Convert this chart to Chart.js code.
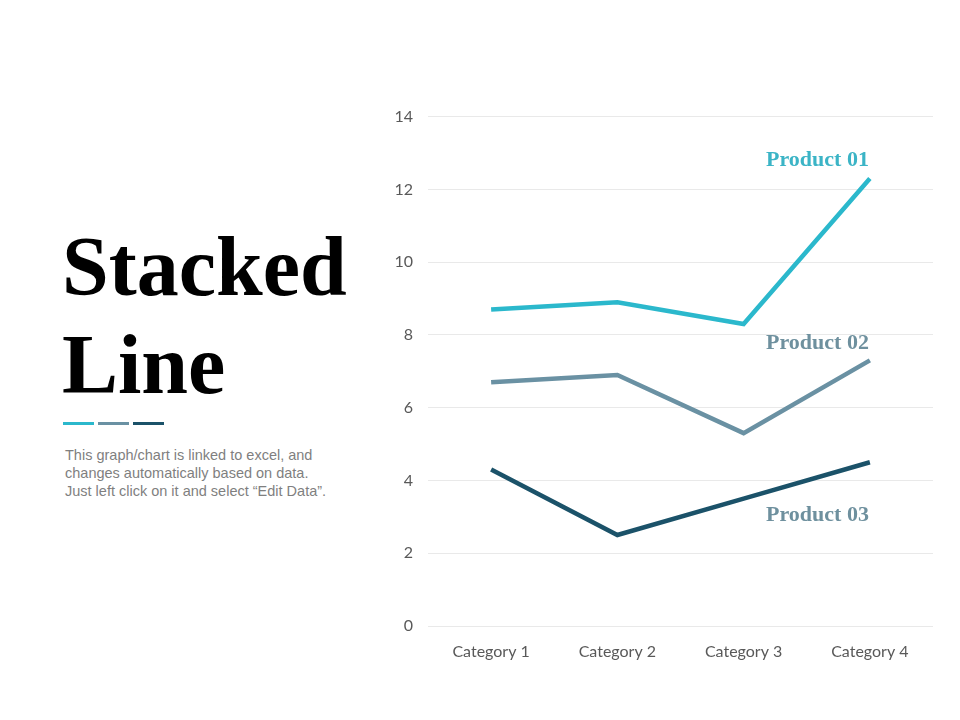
<!DOCTYPE html>
<html>
<head>
<meta charset="utf-8">
<script src="https://cdn.jsdelivr.net/npm/chart.js@4"></script>
<style>
  html, body { margin: 0; padding: 0; background: #fff; }
  body { width: 960px; height: 720px; position: relative; overflow: hidden; }
  .title {
    position: absolute; left: 62px; top: 218px;
    font-family: "Liberation Serif", serif; font-weight: bold;
    font-size: 84px; line-height: 98px; color: #000;
  }
  .dashes { position: absolute; left: 63px; top: 422px; }
  .dashes span { display: inline-block; width: 31px; height: 3px; margin-right: 4px; vertical-align: top; }
  .note {
    position: absolute; left: 65px; top: 446px; width: 262px;
    font-family: "Liberation Sans", Arial, sans-serif; font-size: 14.5px;
    line-height: 18px; color: #7f7f7f;
  }
  .wrap { position: absolute; left: 375px; top: 92px; width: 575px; height: 583px; }
</style>
</head>
<body>
<div class="title">Stacked<br>Line</div>
<div class="dashes"><span style="background:#2bb8cc"></span><span style="background:#6a91a3"></span><span style="background:#1b5269"></span></div>
<div class="note">This graph/chart is linked to excel, and changes automatically based on data. Just left click on it and select “Edit Data”.</div>
<div class="wrap"><canvas id="chart" width="575" height="583"></canvas></div>
<script>
const categories = ['Category 1', 'Category 2', 'Category 3', 'Category 4'];
const seriesNames = ['Product 01', 'Product 02', 'Product 03'];
const product01 = [8.7, 8.9, 8.3, 12.3];
const product02 = [6.7, 6.9, 5.3, 7.3];
const product03 = [4.3, 2.5, 3.5, 4.5];

const lineColors = ['#2bb8cc', '#6a91a3', '#1b5269'];
const labelColors = ['#3bb4c6', '#6e909e', '#6e909e'];
// pixel offset of the end label from the last point
const labelShift = [-18, -17, 53];

// draws the series name near the last point of each line
const endLabels = {
  id: 'endLabels',
  afterDatasetsDraw(chart) {
    const ctx = chart.ctx;
    ctx.save();
    ctx.font = 'bold 22px "Liberation Serif", serif';
    ctx.textAlign = 'right';
    ctx.textBaseline = 'middle';
    chart.data.datasets.forEach((ds, i) => {
      const pts = chart.getDatasetMeta(i).data;
      const last = pts[pts.length - 1];
      ctx.fillStyle = labelColors[i];
      ctx.fillText(ds.label, last.x - 1, last.y + labelShift[i]);
    });
    ctx.restore();
  }
};

const chart = new Chart('chart', {
  type: 'line',
  data: {
    labels: categories,
    datasets: [product01, product02, product03].map((vals, i) => ({
      label: seriesNames[i],
      data: vals,
      borderColor: lineColors[i],
      borderWidth: 4.5,
      pointRadius: 0,
      tension: 0,
      fill: false
    }))
  },
  options: {
    responsive: false,
    animation: false,
    layout: { padding: { top: 15, right: 17, bottom: 9, left: 0 } },
    plugins: { legend: { display: false }, tooltip: { enabled: false } },
    scales: {
      x: {
        offset: true,
        grid: { display: false },
        border: { display: false },
        ticks: { color: '#595959', font: { family: 'Lato', size: 16 }, padding: 8 },
        afterFit: s => { s.height = 40; }
      },
      y: {
        min: 0, max: 14,
        ticks: { stepSize: 2, color: '#595959', font: { family: 'Lato', size: 16 }, padding: 15 },
        grid: { color: '#e9e9e9', lineWidth: 1, drawTicks: false },
        border: { display: false },
        afterFit: s => { s.width = 53; }
      }
    }
  },
  plugins: [endLabels]
});
</script>
</body>
</html>
